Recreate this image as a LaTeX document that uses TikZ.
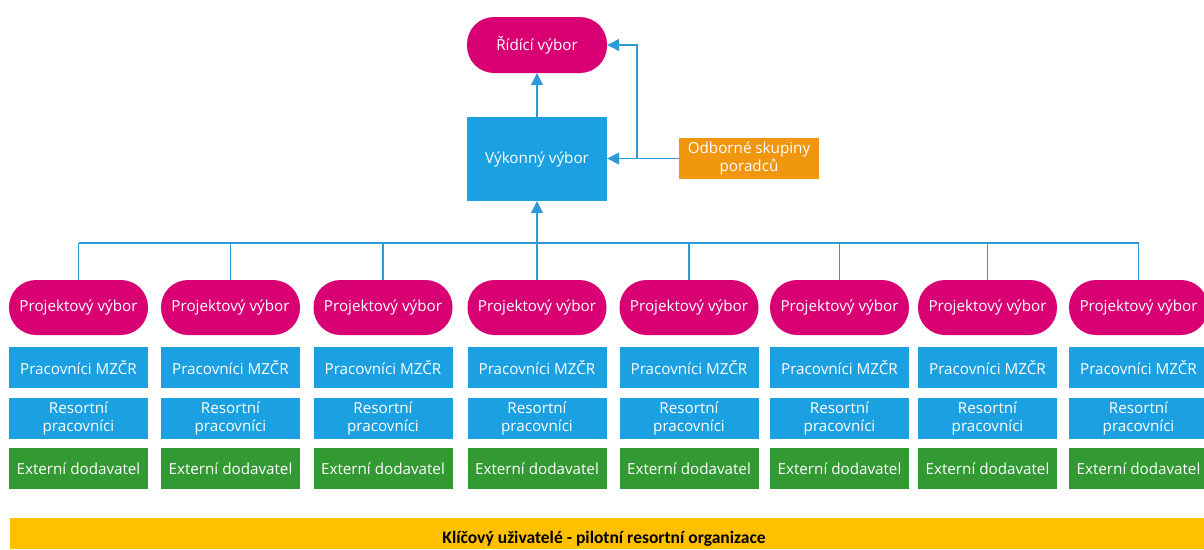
\documentclass[tikz,border=0pt]{standalone}
\usepackage{fontspec}
\setmainfont{Open Sans}
\newfontfamily\calfont{Carlito}
\usetikzlibrary{arrows.meta}
\definecolor{cmag}{HTML}{D80073}
\definecolor{cblue}{HTML}{1BA1E2}
\definecolor{corange}{HTML}{F0960F}
\definecolor{cgreen}{HTML}{339933}
\definecolor{cyellow}{HTML}{FFC000}
\definecolor{cline}{HTML}{2C9AD6}
\tikzset{
  box/.style={inner sep=0pt, align=center, text=white, font=\fontsize{15.2}{18.5}\selectfont},
  pill/.style={box, fill=cmag, rounded corners=27pt, minimum width=139pt, minimum height=55pt},
  bluebox/.style={box, fill=cblue, minimum width=139pt, minimum height=41pt},
  greenbox/.style={box, fill=cgreen, minimum width=139pt, minimum height=41pt},
  conn/.style={draw=cline, line width=1.2pt},
  arr/.style={conn, -{Triangle[length=12pt,width=12pt]}},
}
\begin{document}
\begin{tikzpicture}[x=1pt,y=-1pt]
\useasboundingbox (0,0) rectangle (1204,549);
% top
\node[pill, minimum width=140pt, minimum height=56pt] (rv) at (537,45) {Řídící výbor};
\node[box, fill=cblue, minimum width=140pt, minimum height=84pt] (vk) at (537,159) {Výkonný výbor};
\node[box, fill=corange, minimum width=140pt, minimum height=41pt] (od) at (749,158.5) {Odborné skupiny\\poradců};
\coordinate (j) at (637,158.5);
\draw[conn] (od.west) -- (j);
\draw[arr] (j) -- (vk.east |- j);
\draw[arr] (j) |- (rv.east);
\draw[arr] (vk.north) -- (rv.south);
% columns
\foreach \i/\x in {1/78.5,2/230.5,3/383,4/537,5/689,6/839.5,7/987.5,8/1138.5}{
  \node[pill] (p\i) at (\x,307.5) {Projektový výbor};
  \node[bluebox] (m\i) at (\x,367.5) {Pracovníci MZČR};
  \node[bluebox] (r\i) at (\x,418.5) {Resortní\\pracovníci};
  \node[greenbox] (e\i) at (\x,468.5) {Externí dodavatel};
}
\coordinate (bus) at (537,243);
\foreach \i in {1,2,3,5,6,7,8}{
  \draw[conn] (p\i.north) -- (p\i.north |- bus);
}
\draw[conn] (p1.north |- bus) -- (p8.north |- bus);
\draw[arr] (p4.north) -- (vk.south);
% bottom bar
\fill[cyellow] (10,518) rectangle (1204,549);
\node[inner sep=0pt, font=\calfont\bfseries\fontsize{17.5}{20}\selectfont] (kl) at (604,539) {Klíčový uživatelé - pilotní resortní organizace};
\end{tikzpicture}
\end{document}
